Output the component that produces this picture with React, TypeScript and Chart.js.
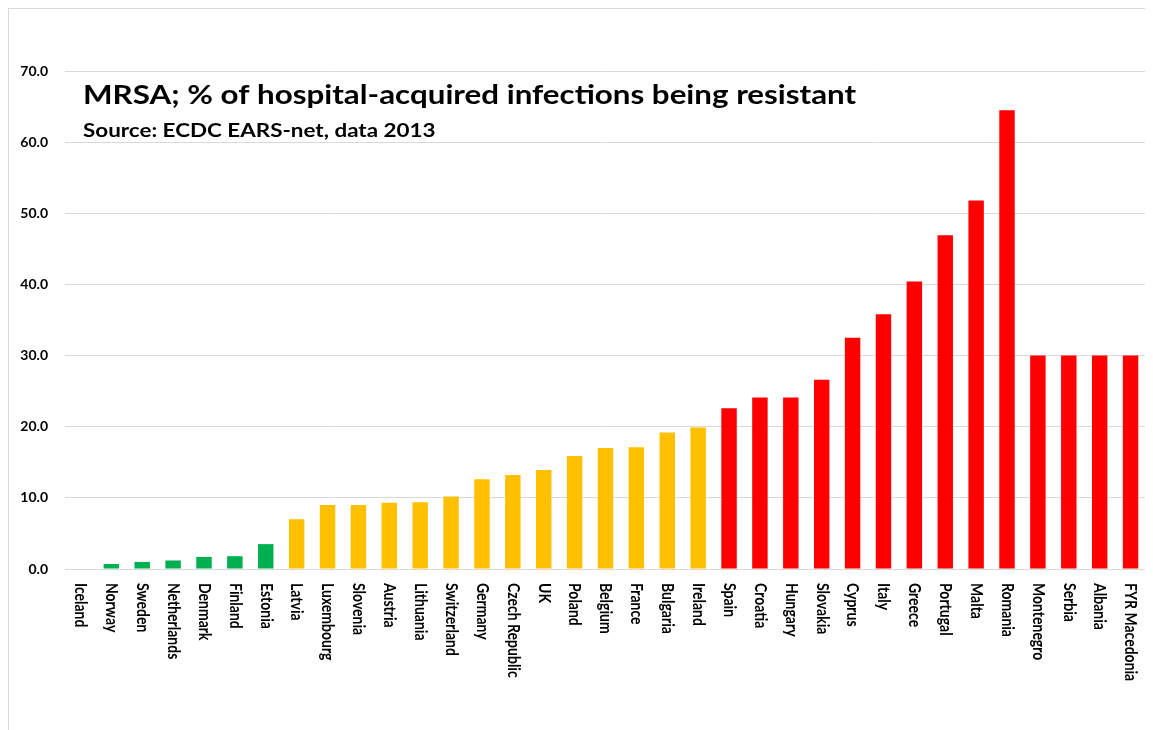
import React, { useEffect, useRef } from "react";
import { Chart, registerables } from "chart.js";

Chart.register(...registerables);

const countries = [
  "Iceland", "Norway", "Sweden", "Netherlands", "Denmark", "Finland", "Estonia",
  "Latvia", "Luxembourg", "Slovenia", "Austria", "Lithuania", "Switzerland", "Germany",
  "Czech Republic", "UK", "Poland", "Belgium", "France", "Bulgaria", "Ireland",
  "Spain", "Croatia", "Hungary", "Slovakia", "Cyprus", "Italy", "Greece", "Portugal",
  "Malta", "Romania", "Montenegro", "Serbia", "Albania", "FYR Macedonia",
];

const resistantPct = [
  0, 0.7, 1.0, 1.2, 1.7, 1.8, 3.5,
  7.0, 9.0, 9.0, 9.3, 9.4, 10.2, 12.6,
  13.2, 13.9, 15.9, 17.0, 17.1, 19.2, 19.9,
  22.6, 24.1, 24.1, 26.6, 32.5, 35.8, 40.4, 46.9,
  51.8, 64.5, 30.0, 30.0, 30.0, 30.0,
];

const levels = [
  "low", "low", "low", "low", "low", "low", "low",
  "mid", "mid", "mid", "mid", "mid", "mid", "mid",
  "mid", "mid", "mid", "mid", "mid", "mid", "mid",
  "high", "high", "high", "high", "high", "high", "high", "high",
  "high", "high", "high", "high", "high", "high",
];

const levelColors: Record<string, string> = {
  low: "#00b050",
  mid: "#ffc000",
  high: "#ff0000",
};

const yTicks = [0, 10, 20, 30, 40, 50, 60, 70];

const titleText = "MRSA; % of hospital-acquired infections being resistant";
const subtitleText = "Source: ECDC EARS-net, data 2013";

const W = 1145;
const H = 722;

export default function App() {
  const canvasRef = useRef<HTMLCanvasElement | null>(null);

  useEffect(() => {
    if (!canvasRef.current) return;

    const overlay = {
      id: "overlayText",
      afterDraw(chart: any) {
        const ctx = chart.ctx;
        const xs = chart.scales.x;
        const area = chart.chartArea;
        ctx.save();
        ctx.fillStyle = "#000000";
        ctx.font = "bold 14px Lato";
        ctx.textAlign = "left";
        ctx.textBaseline = "middle";
        countries.forEach((c, i) => {
          const x = xs.getPixelForValue(i);
          ctx.save();
          ctx.translate(x, area.bottom + 14);
          ctx.rotate(Math.PI / 2);
          ctx.scale(1, 1.15);
          ctx.fillText(c, 0, 0);
          ctx.restore();
        });
        ctx.textBaseline = "alphabetic";
        ctx.save();
        ctx.translate(75, 96);
        ctx.scale(1.16, 1);
        ctx.font = "bold 27px Lato";
        ctx.fillText(titleText, 0, 0);
        ctx.restore();
        ctx.save();
        ctx.translate(75, 129);
        ctx.scale(1.18, 1);
        ctx.font = "bold 19px Lato";
        ctx.fillText(subtitleText, 0, 0);
        ctx.restore();
        ctx.restore();
      },
    };

    const chart = new Chart(canvasRef.current, {
      type: "bar",
      data: {
        labels: countries,
        datasets: [
          {
            data: resistantPct,
            backgroundColor: levels.map((l) => levelColors[l]),
            borderWidth: 0,
            barPercentage: 0.5,
            categoryPercentage: 1,
          },
        ],
      },
      options: {
        responsive: false,
        animation: false,
        layout: { padding: { top: 63, bottom: 161, left: 0, right: 7 } },
        plugins: {
          legend: { display: false },
          tooltip: { enabled: false },
        },
        scales: {
          x: {
            grid: { display: false, drawTicks: false },
            border: { display: true, color: "#d9d9d9", width: 1 },
            ticks: { display: false },
            afterFit: (s: any) => {
              s.height = 0;
            },
          },
          y: {
            min: 0,
            max: 70,
            afterBuildTicks: (s: any) => {
              s.ticks = yTicks.map((v) => ({ value: v }));
            },
            grid: { color: "#d9d9d9", drawTicks: false },
            border: { display: false },
            ticks: {
              padding: 17,
              color: "#000000",
              font: { family: "Lato", weight: "bold", size: 14 },
              callback: (v: any) => Number(v).toFixed(1),
            },
            afterFit: (s: any) => {
              s.width = 57;
            },
          },
        },
      },
      plugins: [overlay],
    });

    return () => chart.destroy();
  }, []);

  return (
    <div style={{ position: "relative", width: W, height: H }}>
      <canvas
        ref={canvasRef}
        width={W}
        height={H}
        style={{ position: "absolute", left: 0, top: 0, width: W, height: H }}
      />
      <div
        style={{
          position: "absolute",
          left: 0,
          top: 0,
          width: W,
          height: H,
          borderLeft: "1px solid #d9d9d9",
          borderTop: "1px solid #d9d9d9",
          boxSizing: "border-box",
          pointerEvents: "none",
        }}
      />
    </div>
  );
}
